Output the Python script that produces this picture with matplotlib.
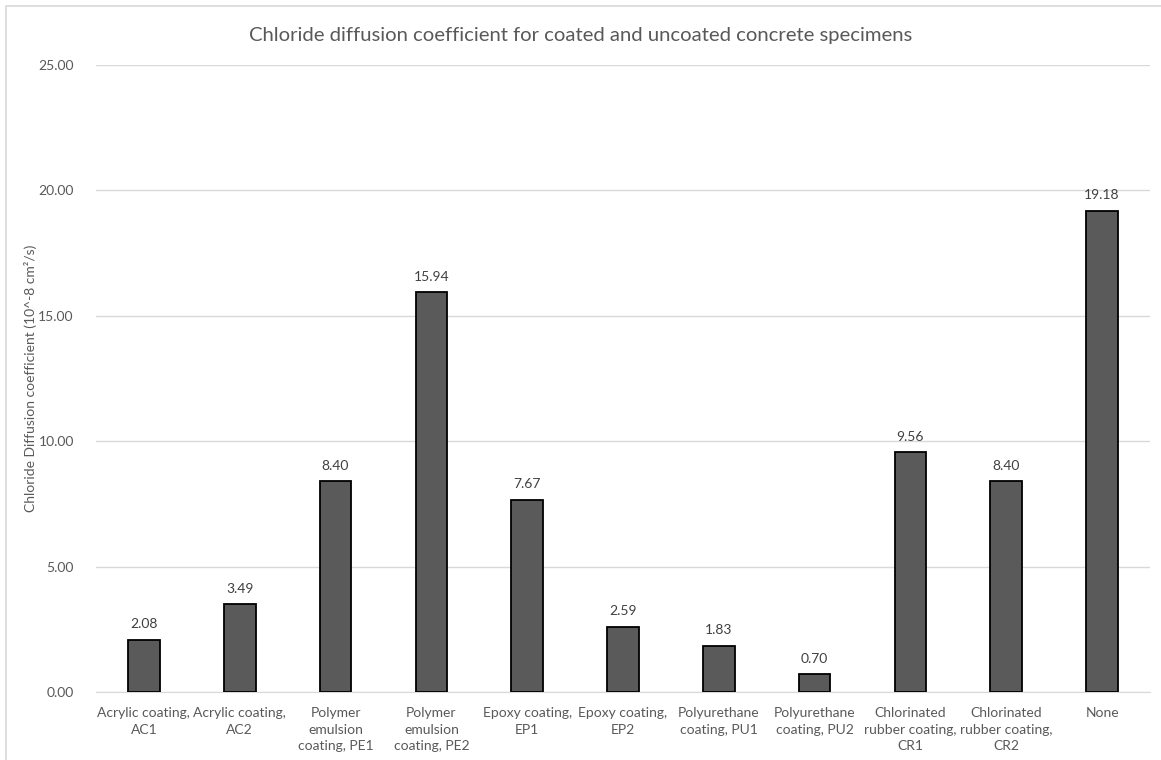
import matplotlib.pyplot as plt
from matplotlib.patches import Rectangle

categories = ["Acrylic coating,\nAC1", "Acrylic coating,\nAC2",
              "Polymer\nemulsion\ncoating, PE1", "Polymer\nemulsion\ncoating, PE2",
              "Epoxy coating,\nEP1", "Epoxy coating,\nEP2",
              "Polyurethane\ncoating, PU1", "Polyurethane\ncoating, PU2",
              "Chlorinated\nrubber coating,\nCR1", "Chlorinated\nrubber coating,\nCR2",
              "None"]
values = [2.08, 3.49, 8.40, 15.94, 7.67, 2.59, 1.83, 0.70, 9.56, 8.40, 19.18]
y_ticks = [0, 5, 10, 15, 20, 25]

plt.rcParams['font.family'] = ['Lato', 'DejaVu Sans']
text_col = '#595959'

fig = plt.figure(figsize=(11.61, 7.6), dpi=100)
ax = fig.add_axes([96 / 1161, 1 - 692 / 760, (1150 - 96) / 1161, (692 - 65) / 760])

x = list(range(len(categories)))
bars = ax.bar(x, values, width=0.33, color='#5a5a5a', edgecolor='black', linewidth=1.3, zorder=3)
for b, v in zip(bars, values):
    ax.annotate(f"{v:.2f}", (b.get_x() + b.get_width() / 2, v), xytext=(0, 7),
                textcoords='offset points', ha='center', va='bottom',
                fontsize=10, color='#404040')

ax.set_xlim(-0.5, len(categories) - 0.5)
ax.set_ylim(0, 25)
ax.set_yticks(y_ticks)
ax.set_yticklabels([f"{t:.2f}" for t in y_ticks])
ax.set_xticks(x)
ax.set_xticklabels(categories, fontsize=10, color=text_col, linespacing=1.45)
ax.tick_params(axis='y', labelsize=10, labelcolor=text_col, length=0, pad=16)
ax.tick_params(axis='x', length=0, pad=11)
ax.grid(axis='y', color='#d9d9d9', linewidth=1, zorder=0)
for s in ['top', 'right', 'left']:
    ax.spines[s].set_visible(False)
ax.spines['bottom'].set_color('#d9d9d9')
ax.spines['bottom'].set_zorder(2)

ax.set_ylabel("Chloride Diffusion coefficient (10^-8 cm²/s)", fontsize=10, color=text_col)
ax.yaxis.set_label_coords(-0.056, 0.5)
fig.text(0.5, 1 - 35 / 760, "Chloride diffusion coefficient for coated and uncoated concrete specimens",
         ha='center', va='center', fontsize=14.6, color=text_col)

fig.patches.append(Rectangle((6 / 1161, -0.1), 1.2, 1 - 6 / 760 + 0.1, transform=fig.transFigure,
                             fill=False, edgecolor='#d9d9d9', linewidth=1.2))

fig.savefig('out.png', dpi=100)
